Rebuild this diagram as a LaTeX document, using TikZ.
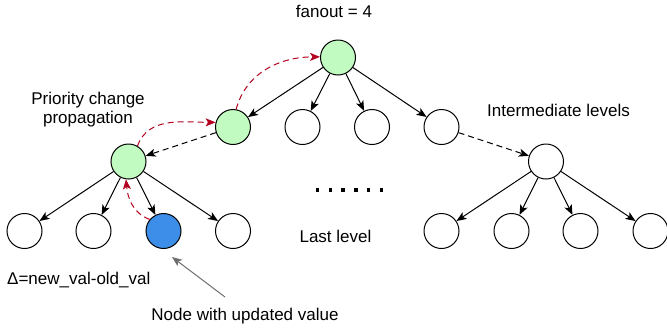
\documentclass[tikz,border=0pt]{standalone}
\usepackage{fontspec}
\setmainfont{Liberation Sans}
\usetikzlibrary{arrows.meta}
\definecolor{nodegreen}{RGB}{193,251,193}
\definecolor{nodeblue}{RGB}{61,142,232}
\definecolor{propred}{RGB}{178,0,30}
\definecolor{notegray}{RGB}{110,110,110}
\tikzset{
  tnode/.style={circle,draw=black,line width=1pt,minimum size=35pt,inner sep=0pt,fill=white},
  greennode/.style={tnode,fill=nodegreen},
  bluenode/.style={tnode,fill=nodeblue},
  tip/.style={-{Stealth[length=10pt,width=8pt,inset=2.5pt]}},
  edge/.style={tip,line width=1pt,black},
  dedge/.style={edge,dash pattern=on 6pt off 4pt},
  redge/.style={tip,line width=1pt,propred,dash pattern=on 6pt off 4pt},
  gedge/.style={tip,line width=1pt,notegray},
  lbl/.style={font=\fontsize{17}{19}\selectfont,inner sep=0pt,anchor=base},
  dotsq/.style={fill=black,minimum size=3.5pt,inner sep=0pt,draw=none}
}
\begin{document}
\begin{tikzpicture}[x=1pt,y=-1pt]
\useasboundingbox (0,0) rectangle (667,333);
% nodes
\node[greennode] (root) at (338,57.5) {};
\node[greennode] (a1) at (233,127) {};
\node[tnode] (a2) at (302.5,127) {};
\node[tnode] (a3) at (372,127) {};
\node[tnode] (a4) at (441.5,127) {};
\node[greennode] (b1) at (128.5,161.5) {};
\node[tnode] (b2) at (546,161.5) {};
\node[tnode] (l1) at (24.5,231) {};
\node[tnode] (l2) at (93.5,231) {};
\node[bluenode] (l3) at (163.5,231) {};
\node[tnode] (l4) at (233,231) {};
\node[tnode] (r1) at (441.5,231) {};
\node[tnode] (r2) at (511.5,231) {};
\node[tnode] (r3) at (580.5,231) {};
\node[tnode] (r4) at (650.5,231) {};
% labels
\node[lbl] (fan) at (334,17) {fanout = 4};
\node[lbl] (pcp1) at (88,104) {Priority change};
\node[lbl] (pcp2) at (88,123) {propagation};
\node[lbl] (int) at (558.5,116) {Intermediate levels};
\node[lbl] (last) at (335.5,242) {Last level};
\node[lbl,anchor=base west] (delta) at (7,284) {Δ=new\_val-old\_val};
\node[lbl] (upd) at (245,320) {Node with updated value};
% dots
\foreach \i [count=\k] in {0,...,5}
  \node[dotsq] (d\k) at (317.5+\i*12.8,190) {};
% solid edges
\foreach \c in {a1,a2,a3,a4} \draw[edge] (root) -- (\c);
\foreach \c in {l1,l2,l3,l4} \draw[edge] (b1) -- (\c);
\foreach \c in {r1,r2,r3,r4} \draw[edge] (b2) -- (\c);
% dashed edges
\draw[dedge] (a1) -- (b1);
\draw[dedge] (a4) -- (b2);
% red propagation
\draw[redge] (b1.60) to[out=70,in=180] (a1.165);
\draw[redge] (a1.80) to[out=75,in=180] (root.178);
\draw[redge] (l3.140) to[out=160,in=-85] (b1.262);
% gray note arrow
\coordinate (gtail) at (225,297);
\coordinate (ghead) at (172,257);
\draw[gedge] (gtail) -- (ghead);
\end{tikzpicture}
\end{document}
